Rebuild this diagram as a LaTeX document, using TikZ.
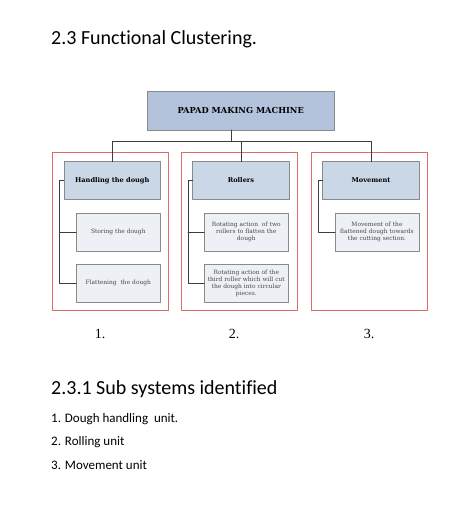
\documentclass[tikz,border=0pt]{standalone}
\usepackage{fontspec}
\setmainfont[Ligatures=NoCommon]{Carlito}
\newfontfamily\boxfont{DejaVu Serif}
\newfontfamily\numfont{Liberation Serif}
\usetikzlibrary{positioning}

\definecolor{topfill}{HTML}{B3C3DB}
\definecolor{headfill}{HTML}{C9D7E7}
\definecolor{itemfill}{HTML}{EDF1F6}
\definecolor{framered}{HTML}{DD6B66}
\definecolor{boxline}{HTML}{8A8A8A}
\definecolor{linkline}{HTML}{3C3C3C}

\tikzset{
  machinebox/.style={draw=boxline, fill=topfill, line width=0.8pt, minimum width=186.7pt,
    minimum height=38.3pt, inner sep=0pt, outer sep=0pt,
    font=\boxfont\fontsize{8.3}{10}\selectfont\bfseries},
  headbox/.style={draw=boxline, fill=headfill, line width=0.6pt, minimum width=96.7pt,
    minimum height=37.6pt, inner sep=0pt, outer sep=0pt,
    font=\boxfont\fontsize{6.6}{8}\selectfont\bfseries},
  itembox/.style={draw=boxline, fill=itemfill, line width=0.6pt, minimum width=84pt,
    minimum height=38pt, inner sep=1pt, outer sep=0pt, align=center, text width=82pt,
    text=black!72, font=\boxfont\fontsize{5.9}{7}\selectfont},
  clusterframe/.style={draw=framered, line width=0.9pt},
  link/.style={draw=linkline, line width=0.7pt},
  heading/.style={anchor=base west, inner sep=0pt, font=\fontsize{20}{24}\selectfont},
  listline/.style={anchor=base west, inner sep=0pt, font=\fontsize{13}{15}\selectfont},
  clusternum/.style={inner sep=0pt, font=\numfont\fontsize{14}{16}\selectfont}
}

\begin{document}
\begin{tikzpicture}[x=1pt, y=-1pt, line join=round, line cap=round]
    \useasboundingbox (0,0) rectangle (457,523);

    % headings
    \node[heading] (title) at (51,44) {2.3 Functional Clustering.};

    % red frames round the three clusters
    \foreach \i/\x in {1/52.7, 2/181.3, 3/311.3} {
      \draw[clusterframe] (\x,152.7) rectangle ++(115.8,157.3);
    }

    % top box and cluster heads
    \node[machinebox] (machine) at (240.7,110.8) {PAPAD MAKING MACHINE};
    \node[headbox] (hd1) at (112.3,180.5) {Handling the dough};
    \node[headbox] (hd2) at (241,180.5) {Rollers};
    \node[headbox] (hd3) at (371,180.5) {Movement};

    % items
    \node[itembox] (c11) at (118.3,232.2) {Storing the dough};
    \node[itembox] (c12) at (118.3,283.3) {Flattening~ the dough};
    \node[itembox] (c21) at (246.3,232.2) {Rotating action~ of two\\ rollers to flatten the\\ dough};
    \node[itembox] (c22) at (246.3,283.3) {Rotating action of the\\ third roller which will cut\\ the dough into circular\\ pieces.};
    \node[itembox] (c31) at (377,232.2) {Movement of the\\ flattened dough towards\\ the cutting section.};

    % connectors from the top box
    \coordinate (split) at (231,141.3);
    \draw[link] (machine.south -| split) -- (split);
    \draw[link] (hd1.north) |- (split) -| (hd3.north);
    \draw[link] (hd2.north) -- (hd2.north |- split);

    % brackets to the items
    \draw[link] (hd1.west) -- ++(-4.7,0) coordinate (b1) |- (c12.west);
    \draw[link] (c11.west) -- (c11.west -| b1);
    \draw[link] (hd2.west) -- ++(-4.7,0) coordinate (b2) |- (c22.west);
    \draw[link] (c21.west) -- (c21.west -| b2);
    \draw[link] (hd3.west) -- ++(-4.4,0) |- (c31.west);

    % cluster numbers
    \node[clusternum] (n1) at (100,333.5) {1.};
    \node[clusternum] (n2) at (234,333.5) {2.};
    \node[clusternum] (n3) at (369,333.5) {3.};

    % sub systems
    \node[heading] (subtitle) at (51,394.5) {2.3.1 Sub systems identified};
    \node[listline] (l1) at (51,422) {1. Dough handling~ unit.};
    \node[listline] (l2) at (51,445.5) {2. Rolling unit};
    \node[listline] (l3) at (51,469.5) {3. Movement unit};
\end{tikzpicture}
\end{document}
